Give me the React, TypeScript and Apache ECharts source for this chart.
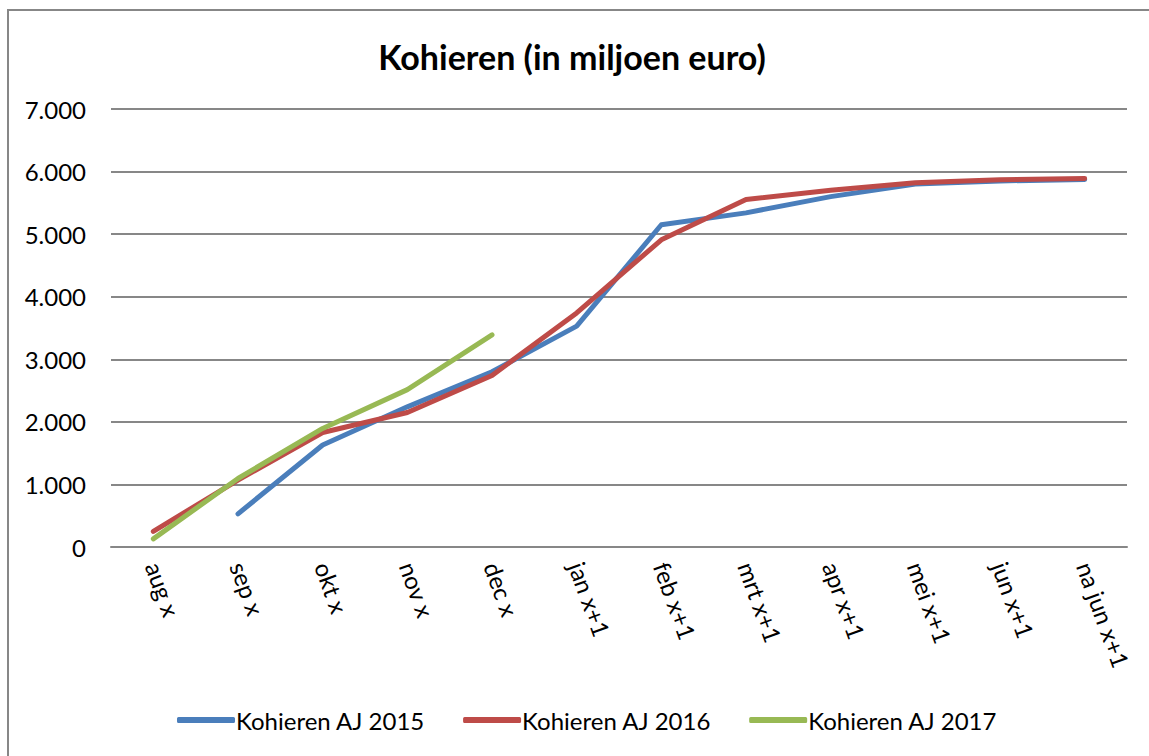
import React, { useEffect, useRef } from "react";
import * as echarts from "echarts";

const categories = ["aug x", "sep x", "okt x", "nov x", "dec x", "jan x+1", "feb x+1", "mrt x+1", "apr x+1", "mei x+1", "jun x+1", "na jun x+1"];
const aj2015 = [null, 530, 1630, 2240, 2800, 3530, 5150, 5340, 5600, 5800, 5850, 5875];
const aj2016 = [250, 1070, 1830, 2150, 2740, 3740, 4910, 5555, 5700, 5820, 5870, 5890];
const aj2017 = [130, 1095, 1895, 2515, 3390];
const seriesNames = ["Kohieren AJ 2015", "Kohieren AJ 2016", "Kohieren AJ 2017"];
const colors = ["#4A7EBB", "#BE4B48", "#98B954"];

const FONT = "Lato";

function fmt(v: number): string {
  if (v === 0) return "0";
  const th = Math.floor(v / 1000);
  const rest = v % 1000;
  return th + "." + String(rest).padStart(3, "0");
}

export default function App() {
  const ref = useRef<HTMLDivElement>(null);
  useEffect(() => {
    if (!ref.current) return;
    const chart = echarts.init(ref.current, null, { renderer: "svg" });
    const data = [aj2015, aj2016, aj2017];
    chart.setOption({
      animation: false,
      backgroundColor: "#ffffff",
      textStyle: { fontFamily: FONT },
      title: {
        text: "Kohieren (in miljoen euro)",
        left: 567,
        textAlign: "center",
        top: 34,
        textStyle: { fontFamily: FONT, fontWeight: "bold", fontSize: 34, color: "#000" },
      },
      graphic: [
        {
          type: "rect",
          shape: { x: 8, y: 10, width: 1300, height: 900 },
          style: { fill: "none", stroke: "#878787", lineWidth: 2 },
          silent: true,
        },
      ],
      grid: { left: 111, right: 22, top: 109, bottom: 209, containLabel: false },
      legend: {
        data: seriesNames,
        icon: "roundRect",
        left: 172,
        top: 703,
        itemWidth: 58,
        itemHeight: 6,
        itemGap: 38,
        textStyle: { fontFamily: FONT, fontSize: 24, color: "#000", padding: [0, 0, 0, -4] },
      },
      xAxis: {
        type: "category",
        data: categories,
        boundaryGap: true,
        axisLine: { show: true, lineStyle: { color: "#878787", width: 2 } },
        axisTick: { show: false },
        axisLabel: { rotate: -70, margin: 16, fontFamily: FONT, fontSize: 24, color: "#000", interval: 0 },
      },
      yAxis: {
        type: "value",
        min: 0,
        max: 7000,
        interval: 1000,
        axisLine: { show: false },
        axisTick: { show: false },
        splitLine: { lineStyle: { color: "#878787", width: 2 } },
        axisLabel: { formatter: fmt, margin: 25, fontFamily: FONT, fontSize: 24, color: "#000" },
      },
      series: seriesNames.map((name, i) => ({
        name,
        type: "line",
        data: data[i],
        symbol: "none",
        showSymbol: false,
        connectNulls: false,
        lineStyle: { color: colors[i], width: 5, cap: "round", join: "round" },
        itemStyle: { color: colors[i] },
      })),
    });
    return () => chart.dispose();
  }, []);
  return (
    <div
      ref={ref}
      style={{ position: "absolute", left: 0, top: 0, width: 1149, height: 756 }}
    />
  );
}
